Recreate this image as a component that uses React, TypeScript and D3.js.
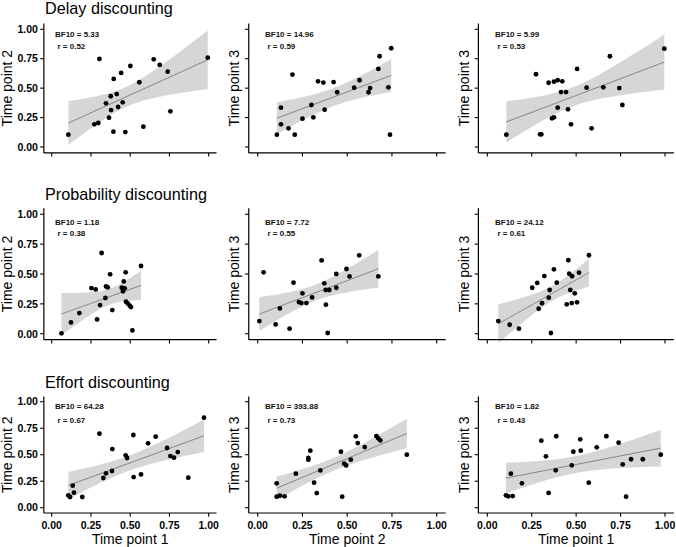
import React from "react";
import * as d3 from "d3";

// ---------- data ----------
const rowTitles = ["Delay discounting", "Probability discounting", "Effort discounting"];
const yTitles = ["Time point 2", "Time point 3", "Time point 3"];
const xTitles = ["Time point 1", "Time point 2", "Time point 1"];
const tickValues = [0, 0.25, 0.5, 0.75, 1];
const tickLabels = ["0.00", "0.25", "0.50", "0.75", "1.00"];
const bf10Labels = [
  ["5.33", "14.96", "5.99"],
  ["1.18", "7.72", "24.12"],
  ["64.28", "393.88", "1.82"],
];
const rLabels = [
  ["0.52", "0.59", "0.53"],
  ["0.38", "0.55", "0.61"],
  ["0.67", "0.73", "0.43"],
];

// Delay discounting
const delayT1T2_x = [0.106, 0.272, 0.297, 0.304, 0.346, 0.365, 0.376, 0.378, 0.395, 0.393, 0.414, 0.423, 0.442, 0.452, 0.469, 0.501, 0.558, 0.584, 0.650, 0.688, 0.739, 0.756, 0.994];
const delayT1T2_y = [0.105, 0.193, 0.204, 0.748, 0.371, 0.249, 0.431, 0.314, 0.578, 0.130, 0.450, 0.340, 0.629, 0.380, 0.127, 0.688, 0.550, 0.173, 0.745, 0.697, 0.640, 0.303, 0.759];
const delayT2T3_x = [0.107, 0.130, 0.130, 0.172, 0.194, 0.207, 0.250, 0.300, 0.311, 0.337, 0.367, 0.374, 0.424, 0.444, 0.539, 0.569, 0.619, 0.628, 0.674, 0.681, 0.730, 0.739, 0.746];
const delayT2T3_y = [0.105, 0.334, 0.193, 0.159, 0.615, 0.105, 0.241, 0.357, 0.252, 0.558, 0.547, 0.317, 0.552, 0.465, 0.504, 0.567, 0.465, 0.501, 0.663, 0.771, 0.507, 0.105, 0.839];
const delayT1T3_x = [0.107, 0.297, 0.304, 0.274, 0.345, 0.375, 0.396, 0.422, 0.415, 0.443, 0.396, 0.364, 0.375, 0.454, 0.471, 0.505, 0.559, 0.587, 0.653, 0.690, 0.743, 0.760, 0.996];
const delayT1T3_y = [0.105, 0.108, 0.108, 0.618, 0.546, 0.555, 0.567, 0.558, 0.467, 0.467, 0.334, 0.244, 0.252, 0.320, 0.193, 0.663, 0.504, 0.159, 0.507, 0.771, 0.501, 0.357, 0.835];

// Probability discounting
const probT1T2_x = [0.062, 0.123, 0.176, 0.253, 0.280, 0.289, 0.308, 0.318, 0.342, 0.346, 0.357, 0.372, 0.386, 0.446, 0.454, 0.459, 0.465, 0.471, 0.473, 0.484, 0.497, 0.505, 0.514, 0.569];
const probT1T2_y = [0.003, 0.095, 0.173, 0.382, 0.371, 0.120, 0.240, 0.676, 0.299, 0.396, 0.388, 0.497, 0.198, 0.385, 0.355, 0.438, 0.380, 0.514, 0.268, 0.254, 0.235, 0.223, 0.028, 0.567];
const probT2T3_x = [0.009, 0.033, 0.100, 0.124, 0.178, 0.200, 0.230, 0.244, 0.250, 0.272, 0.304, 0.357, 0.372, 0.380, 0.381, 0.391, 0.400, 0.439, 0.439, 0.496, 0.513, 0.567, 0.674];
const probT2T3_y = [0.106, 0.514, 0.078, 0.212, 0.042, 0.427, 0.265, 0.257, 0.338, 0.257, 0.304, 0.614, 0.422, 0.366, 0.243, 0.006, 0.366, 0.500, 0.385, 0.542, 0.480, 0.656, 0.480];
const probT1T3_x = [0.062, 0.126, 0.178, 0.358, 0.253, 0.281, 0.321, 0.375, 0.391, 0.351, 0.346, 0.308, 0.289, 0.447, 0.475, 0.505, 0.456, 0.461, 0.477, 0.467, 0.492, 0.516, 0.572];
const probT1T3_y = [0.106, 0.075, 0.042, 0.006, 0.385, 0.425, 0.483, 0.539, 0.427, 0.366, 0.302, 0.255, 0.209, 0.246, 0.257, 0.263, 0.615, 0.503, 0.481, 0.366, 0.338, 0.511, 0.657];

// Effort discounting
const effortT1T2_x = [0.106, 0.117, 0.134, 0.142, 0.195, 0.304, 0.329, 0.346, 0.384, 0.386, 0.471, 0.480, 0.520, 0.522, 0.569, 0.614, 0.662, 0.735, 0.756, 0.779, 0.803, 0.870, 0.970];
const effortT1T2_y = [0.116, 0.101, 0.208, 0.142, 0.101, 0.698, 0.280, 0.324, 0.346, 0.553, 0.494, 0.469, 0.686, 0.289, 0.314, 0.607, 0.670, 0.563, 0.487, 0.472, 0.525, 0.283, 0.849];
const effortT2T3_x = [0.106, 0.106, 0.124, 0.150, 0.213, 0.283, 0.283, 0.294, 0.315, 0.330, 0.350, 0.465, 0.472, 0.483, 0.494, 0.520, 0.548, 0.559, 0.598, 0.663, 0.674, 0.685, 0.833];
const effortT2T3_y = [0.230, 0.104, 0.113, 0.107, 0.321, 0.469, 0.453, 0.538, 0.236, 0.138, 0.352, 0.528, 0.104, 0.415, 0.399, 0.453, 0.673, 0.610, 0.572, 0.676, 0.654, 0.635, 0.500];
const effortT1T3_x = [0.105, 0.118, 0.143, 0.133, 0.195, 0.304, 0.330, 0.345, 0.385, 0.388, 0.475, 0.484, 0.523, 0.526, 0.571, 0.616, 0.670, 0.739, 0.762, 0.781, 0.809, 0.875, 0.976];
const effortT1T3_y = [0.117, 0.107, 0.110, 0.321, 0.230, 0.632, 0.485, 0.139, 0.353, 0.674, 0.400, 0.528, 0.645, 0.538, 0.236, 0.570, 0.674, 0.613, 0.409, 0.104, 0.457, 0.457, 0.500];

const panelX = [
  [delayT1T2_x, delayT2T3_x, delayT1T3_x],
  [probT1T2_x, probT2T3_x, probT1T3_x],
  [effortT1T2_x, effortT2T3_x, effortT1T3_x],
];
const panelY = [
  [delayT1T2_y, delayT2T3_y, delayT1T3_y],
  [probT1T2_y, probT2T3_y, probT1T3_y],
  [effortT1T2_y, effortT2T3_y, effortT1T3_y],
];

// ---------- layout ----------
const W = 676;
const H = 547;
const DOMAIN: [number, number] = [-0.05, 1.05];
const colRanges: [number, number][] = [
  [43.85, 216.55],
  [248.75, 445.65],
  [478.4, 673.9],
];
const rowRanges: [number, number][] = [
  [152.9, 23.4],
  [339.7, 208.3],
  [513.0, 396.4],
];
const titleBaseline = [14, 200, 387.5];
const bfX = [55, 265, 495];
const bfY = [34.5, 221.7, 406.3];
const rY = [46.5, 233, 420.3];
const yTitleX = [12, 238.5, 469];
const xTitleBaseline = 544;

const FONT = "'Liberation Sans', Arial, Helvetica, sans-serif";

function tQuantile975(df: number) {
  const z = 1.959964;
  const z3 = z * z * z;
  const z5 = z3 * z * z;
  const z7 = z5 * z * z;
  return (
    z +
    (z3 + z) / (4 * df) +
    (5 * z5 + 16 * z3 + 3 * z) / (96 * df * df) +
    (3 * z7 + 19 * z5 + 17 * z3 - 15 * z) / (384 * df * df * df)
  );
}

function fit(xs: number[], ys: number[]) {
  const n = xs.length;
  const mx = d3.mean(xs)!;
  const my = d3.mean(ys)!;
  let sxx = 0,
    sxy = 0;
  for (let i = 0; i < n; i++) {
    sxx += (xs[i] - mx) ** 2;
    sxy += (xs[i] - mx) * (ys[i] - my);
  }
  const b = sxy / sxx;
  const a = my - b * mx;
  let sse = 0;
  for (let i = 0; i < n; i++) sse += (ys[i] - a - b * xs[i]) ** 2;
  const s = Math.sqrt(sse / (n - 2));
  const t = tQuantile975(n - 2);
  const [lo, hi] = d3.extent(xs) as [number, number];
  const grid = d3.range(0, 81).map((i) => lo + ((hi - lo) * i) / 80);
  return grid.map((x) => {
    const yhat = a + b * x;
    const se = s * Math.sqrt(1 / n + (x - mx) ** 2 / sxx);
    return { x, y: yhat, lo: yhat - t * se, hi: yhat + t * se };
  });
}

function Panel({ r, c }: { r: number; c: number }) {
  const xs = panelX[r][c];
  const ys = panelY[r][c];
  const x = d3.scaleLinear().domain(DOMAIN).range(colRanges[c]);
  const y = d3.scaleLinear().domain(DOMAIN).range(rowRanges[r]);
  const band = fit(xs, ys);
  const area = d3
    .area<any>()
    .x((d) => x(d.x))
    .y0((d) => y(d.lo))
    .y1((d) => y(d.hi));
  const line = d3
    .line<any>()
    .x((d) => x(d.x))
    .y((d) => y(d.y));
  const axX = colRanges[c][0];
  const axY = rowRanges[r][0];
  const midY = (rowRanges[r][0] + rowRanges[r][1]) / 2;
  const midX = (colRanges[c][0] + colRanges[c][1]) / 2;
  return (
    <g>
      <path d={area(band) || ""} fill="#d6d6d6" />
      <path d={line(band) || ""} fill="none" stroke="#808080" strokeWidth={1} />
      {xs.map((v, i) => (
        <circle key={i} cx={x(v)} cy={y(ys[i])} r={2.4} fill="#000" />
      ))}
      {/* axes */}
      <line x1={axX} x2={axX} y1={y(DOMAIN[1])} y2={axY} stroke="#000" strokeWidth={1.2} />
      <line x1={axX} x2={colRanges[c][1]} y1={axY} y2={axY} stroke="#000" strokeWidth={1.2} />
      {tickValues.map((t, i) => (
        <g key={"yt" + i}>
          <line x1={axX - 3.7} x2={axX} y1={y(t)} y2={y(t)} stroke="#000" strokeWidth={1.1} />
          {c === 0 && (
            <text
              x={axX - 6}
              y={y(t)}
              dy="0.36em"
              textAnchor="end"
              fontSize={10.5}
              fontWeight="bold"
              fontFamily={FONT}
              fill="#000"
            >
              {tickLabels[i]}
            </text>
          )}
        </g>
      ))}
      {tickValues.map((t, i) => (
        <g key={"xt" + i}>
          <line x1={x(t)} x2={x(t)} y1={axY} y2={axY + 3.7} stroke="#000" strokeWidth={1.1} />
          {r === 2 && (
            <text
              x={x(t)}
              y={axY + 15.7}
              textAnchor="middle"
              fontSize={10.5}
              fontWeight="bold"
              fontFamily={FONT}
              fill="#000"
            >
              {tickLabels[i]}
            </text>
          )}
        </g>
      ))}
      {/* annotations */}
      <text x={bfX[c]} y={bfY[r]} dy="0.36em" fontSize={8} fontWeight="bold" fontFamily={FONT} fill="#111">
        {"BF10 = " + bf10Labels[r][c]}
      </text>
      <text x={bfX[c] + 2.5} y={rY[r]} dy="0.36em" fontSize={8} fontWeight="bold" fontFamily={FONT} fill="#111">
        {"r = " + rLabels[r][c]}
      </text>
      {/* y title */}
      <text
        transform={`translate(${yTitleX[c]},${midY}) rotate(-90)`}
        textAnchor="middle"
        fontSize={14}
        fontFamily={FONT}
        fill="#000"
      >
        {yTitles[c]}
      </text>
      {r === 2 && (
        <text x={midX} y={xTitleBaseline} textAnchor="middle" fontSize={14} fontFamily={FONT} fill="#000">
          {xTitles[c]}
        </text>
      )}
    </g>
  );
}

export default function App() {
  return (
    <svg
      width={W}
      height={H}
      viewBox={`0 0 ${W} ${H}`}
      style={{ position: "absolute", left: 0, top: 0, background: "#fff" }}
    >
      <rect width={W} height={H} fill="#fff" />
      {rowTitles.map((t, r) => (
        <text key={t} x={45} y={titleBaseline[r]} fontSize={16.2} fontFamily={FONT} fill="#000">
          {t}
        </text>
      ))}
      {[0, 1, 2].map((r) =>
        [0, 1, 2].map((c) => <Panel key={r + "-" + c} r={r} c={c} />)
      )}
    </svg>
  );
}
